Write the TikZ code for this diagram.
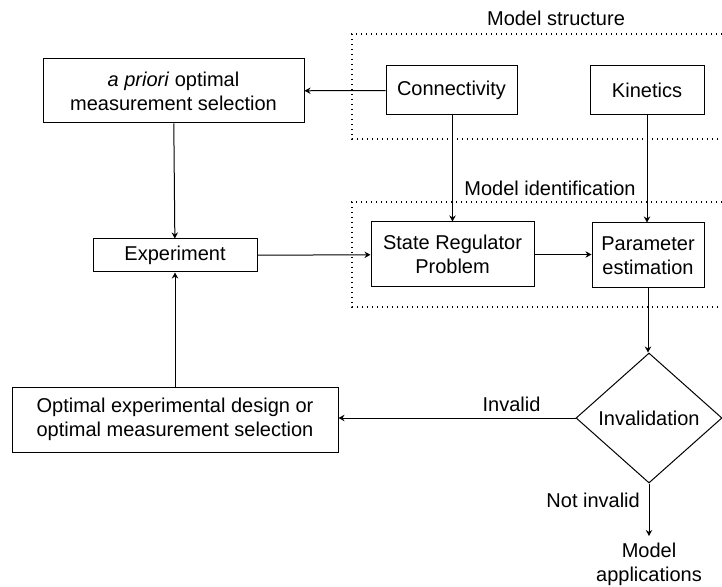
\documentclass[tikz,border=0pt]{standalone}
\usepackage{fontspec}
\setmainfont{Liberation Sans}
\usetikzlibrary{arrows.meta,shapes.geometric}

\begin{document}
\begin{tikzpicture}[x=0.5pt, y=-0.5pt,
		font=\fontsize{10}{12}\selectfont,
		box/.style={draw, line width=0.5pt, align=center, inner sep=0pt},
		flow/.style={line width=0.5pt, -{Stealth[length=3pt, width=3.2pt]}},
		group/.style={line width=0.6pt, dash pattern=on 0.6pt off 1.9pt}]
			%%%%% START %%%%%
			
			\useasboundingbox (0, 0) rectangle (722, 587);
			
			% dotted groups
			\draw[group] (722, 34) -| (352, 139) -- (722, 139);
			\node (lblstruct) at (556, 18) {Model structure};
			\draw[group] (722, 202) -| (352, 307) -- (722, 307);
			\node (lblident) at (550, 188) {Model identification};
			
			\node[box, minimum width=130.5pt, minimum height=32pt] (apriori) at (173.5, 91) {\textit{a priori} optimal\\measurement selection};
			\node[box, minimum width=65.5pt, minimum height=24.5pt] (conn) at (451.5, 90.5) {Connectivity};
			\node[box, minimum width=57pt, minimum height=24.5pt] (kin) at (647, 90.5) {Kinetics};
			
			\node[box, minimum width=82pt, minimum height=16.5pt] (exper) at (175, 255.5) {Experiment};
			\node[box, minimum width=81.5pt, minimum height=32.5pt] (srp) at (452.5, 254.5) {State Regulator\\Problem};
			\node[box, minimum width=56pt, minimum height=32.5pt] (param) at (648, 255.5) {Parameter\\estimation};
			
			\node[box, minimum width=163pt, minimum height=32.5pt] (optim) at (175, 419.5) {Optimal experimental design or\\optimal measurement selection};
			\node[box, diamond, minimum width=73pt, minimum height=65pt] (inval) at (649, 418) {Invalidation};
			\node[align=center, anchor=north] (apps) at (649, 536) {Model\\applications};
			
			\draw[flow] (conn) -- (apriori);
			\draw[flow] (conn.south -| srp.north) -- (srp);
			\draw[flow] (kin.south) -- (kin.south |- param.north);
			\draw[flow] (apriori) -- (exper);
			\draw[flow] (optim) -- (exper);
			\draw[flow] (exper) -- (srp);
			\draw[flow] (srp.east) -- (srp.east -| param.west);
			\draw[flow] (param.south) -- (param.south |- inval.north);
			\draw[flow] (inval.west) -- node[pos=0.27, above=-0.5pt] (lblinvalid) {Invalid} (inval.west -| optim.east);
			\draw[flow] (inval.south) -- node[pos=0.33, left=1pt] (lblnotinv) {Not invalid} (apps.north);
			
			%%%%% END %%%%%
		\end{tikzpicture}
\end{document}
